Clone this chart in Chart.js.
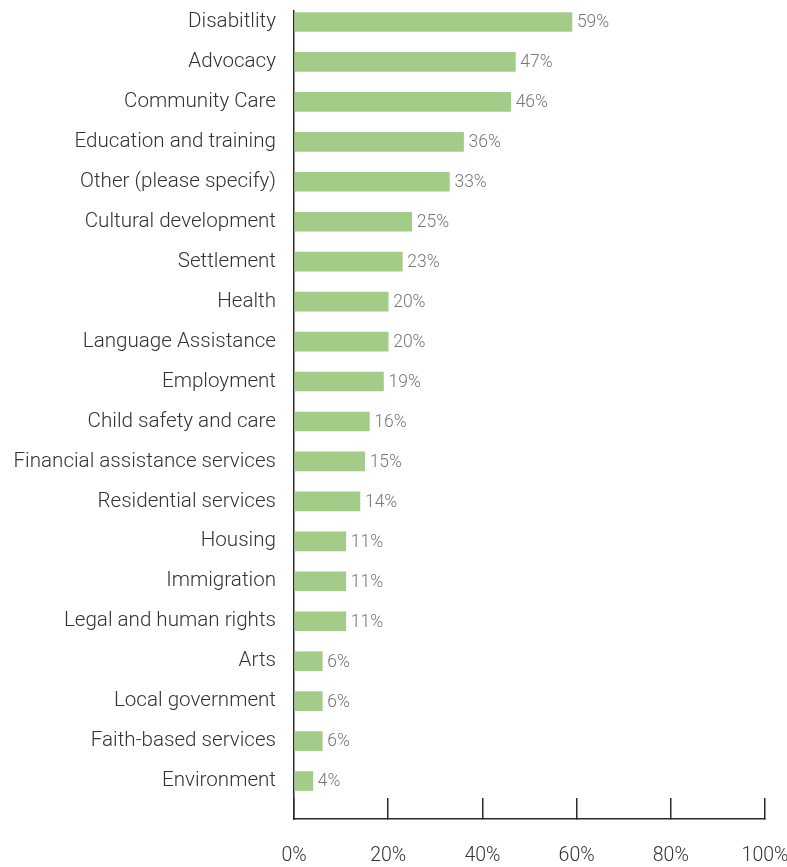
<!DOCTYPE html>
<html>
<head>
<meta charset="utf-8">
<script src="https://cdn.jsdelivr.net/npm/chart.js@4/dist/chart.umd.min.js"></script>
<style>
  html, body { margin: 0; padding: 0; background: #fff; }
  #wrap { width: 787px; height: 867px; position: relative; }
</style>
</head>
<body>
<div id="wrap"><canvas id="c"></canvas></div>
<script>
const categories = [
  "Disabitlity", "Advocacy", "Community Care", "Education and training",
  "Other (please specify)", "Cultural development", "Settlement", "Health",
  "Language Assistance", "Employment", "Child safety and care",
  "Financial assistance services", "Residential services", "Housing",
  "Immigration", "Legal and human rights", "Arts", "Local government",
  "Faith-based services", "Environment"
];
const percentages = [59, 47, 46, 36, 33, 25, 23, 20, 20, 19, 16, 15, 14, 11, 11, 11, 6, 6, 6, 4];
const xTicks = [0, 20, 40, 60, 80, 100];

const FONT = "Roboto, 'Liberation Sans', Arial, sans-serif";

const categorySpacing = {
  id: 'categorySpacing',
  afterLayout(chart) {
    const s = chart.scales.y;
    s._startValue = -0.275;
    s._valueRange = categories.length + 0.225;
  }
};

const valueLabels = {
  id: 'valueLabels',
  afterDatasetsDraw(chart) {
    const ctx = chart.ctx;
    const meta = chart.getDatasetMeta(0);
    ctx.save();
    ctx.font = "300 17.5px " + FONT;
    ctx.fillStyle = '#777';
    ctx.textAlign = 'left';
    ctx.textBaseline = 'middle';
    meta.data.forEach((bar, i) => {
      ctx.fillText(percentages[i] + '%', bar.x + 5, bar.y + 1);
    });
    ctx.restore();
  }
};

new Chart(document.getElementById('c'), {
  type: 'bar',
  data: {
    labels: categories,
    datasets: [{
      data: percentages,
      backgroundColor: '#a4cc89',
      borderWidth: 0,
      barThickness: 19
    }]
  },
  options: {
    indexAxis: 'y',
    responsive: true,
    maintainAspectRatio: false,
    animation: false,
    events: [],
    layout: { padding: { top: 11, right: 22, left: 0, bottom: 0 } },
    plugins: { legend: { display: false }, tooltip: { enabled: false } },
    scales: {
      x: {
        min: 0, max: 100,
        afterBuildTicks(s) { s.ticks = xTicks.map(v => ({ value: v })); },
        afterFit(s) { s.height = 48; s.paddingLeft = 0; s.paddingRight = 0; },
        border: { display: true, color: '#2a2a2a', width: 1.5 },
        grid: { display: true, drawOnChartArea: false, drawTicks: true, tickLength: -21, color: '#2a2a2a', lineWidth: 1.5 },
        ticks: {
          padding: 46,
          color: '#333',
          font: { family: FONT, size: 19.5, weight: 300 },
          maxRotation: 0,
          autoSkip: false,
          callback: v => v + '%'
        }
      },
      y: {
        afterFit(s) { s.width = 294; s.paddingTop = 0; s.paddingBottom = 0; },
        border: { display: true, color: '#2a2a2a', width: 1.5 },
        grid: { display: false, drawTicks: false },
        ticks: {
          padding: 18,
          color: '#333',
          font: { family: FONT, size: 20.6, weight: 300 },
          autoSkip: false
        }
      }
    }
  },
  plugins: [categorySpacing, valueLabels]
});
</script>
</body>
</html>
